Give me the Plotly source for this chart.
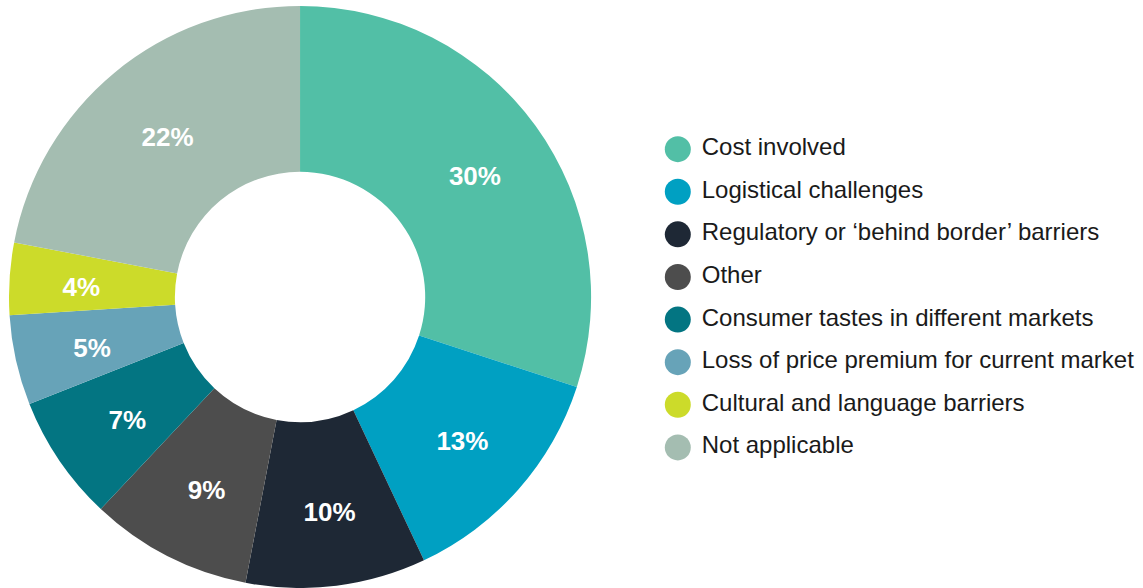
import plotly.graph_objects as go

labels = [
    "Cost involved",
    "Logistical challenges",
    "Regulatory or ‘behind border’ barriers",
    "Other",
    "Consumer tastes in different markets",
    "Loss of price premium for current market",
    "Cultural and language barriers",
    "Not applicable",
]
values = [30, 13, 10, 9, 7, 5, 4, 22]
colors = ["#52BFA6", "#00A0C2", "#1E2835", "#4D4D4D",
          "#037582", "#67A3B8", "#CCDB2A", "#A4BDB1"]

fig = go.Figure()

# donut
fig.add_trace(go.Pie(
    labels=labels, values=values,
    marker=dict(colors=colors, line=dict(width=0)),
    hole=0.43, sort=False, direction="clockwise", rotation=0,
    textinfo="none",
    domain=dict(x=[0.006, 0.519], y=[0.0, 0.99]),
    showlegend=False, hoverinfo="label+percent",
))

# invisible ring on top, only to carry the % labels near mid-ring radius
fig.add_trace(go.Pie(
    labels=labels, values=values,
    marker=dict(colors=["rgba(0,0,0,0)"] * len(values), line=dict(width=0)),
    hole=0.70, sort=False, direction="clockwise", rotation=0,
    texttemplate="%{percent:.0%}",
    textposition="inside", insidetextorientation="horizontal",
    textfont=dict(family="Liberation Sans", size=26, color="white", weight="bold"),
    domain=dict(x=[0.0464, 0.4838], y=[0.0630, 0.9134]),
    showlegend=False, hoverinfo="skip",
))

# legend drawn as a marker column so the circles keep their real size
fig.add_trace(go.Scatter(
    x=[0] * len(labels), y=labels,
    mode="markers+text",
    marker=dict(size=26, color=colors),
    text=[" " + l for l in labels], textposition="middle right",
    textfont=dict(family="Liberation Sans", size=24, color="#1a1a1a"),
    cliponaxis=False, hoverinfo="skip", showlegend=False,
    xaxis="x", yaxis="y",
))

fig.update_layout(
    width=1143, height=588,
    margin=dict(l=0, r=0, t=0, b=0),
    paper_bgcolor="white", plot_bgcolor="white",
    xaxis=dict(domain=[0.5, 1.0], range=[-0.186, 0.814], visible=False, fixedrange=True),
    yaxis=dict(type="category", categoryarray=labels, range=[10.3, -3.5],
               visible=False, fixedrange=True),
)

fig.write_html("out.html", config={"displayModeBar": False},
               post_script="document.body.style.margin='0';")
